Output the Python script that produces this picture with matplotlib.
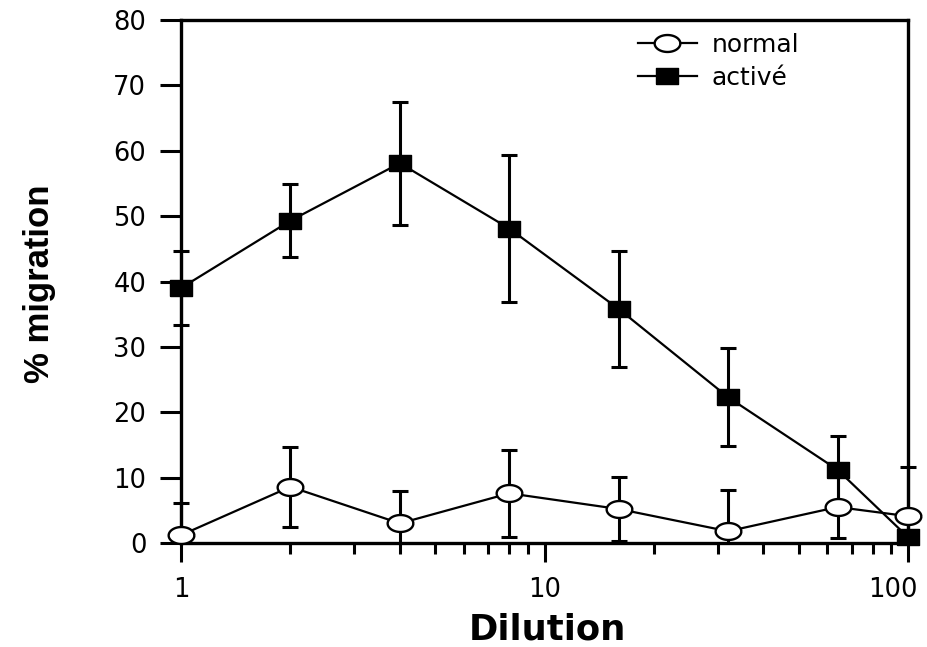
import matplotlib
matplotlib.use('Agg')
import numpy as np
import matplotlib.pyplot as plt
from matplotlib.transforms import Bbox, TransformedBbox, ScaledTranslation
from matplotlib.lines import Line2D
from matplotlib.ticker import LogLocator, NullFormatter

# ---- data ----
dilution = [1, 2, 4, 8, 16, 32, 64, 100]
normal = [1.2, 8.6, 3.0, 7.6, 5.2, 1.8, 5.5, 4.1]
normal_err = [4.9, 6.1, 4.9, 6.7, 4.9, 6.3, 4.7, 7.5]
active = [39.0, 49.3, 58.1, 48.1, 35.8, 22.3, 11.2, 0.9]
active_err = [5.6, 5.6, 9.4, 11.3, 8.9, 7.5, 5.2, 3.0]
series_labels = ["normal", "activé"]
y_ticks = [0, 10, 20, 30, 40, 50, 60, 70, 80]
x_ticks = [1, 10, 100]
x_ticklabels = ["1", "10", "100"]

# ---- markers (the reference is horizontally stretched) ----
t = np.linspace(0, 2 * np.pi, 73)
ellipse = list(zip(np.cos(t), 0.66 * np.sin(t)))
rect = [(-1, -0.74), (1, -0.74), (1, 0.74), (-1, 0.74), (-1, -0.74)]

fig = plt.figure(figsize=(9.27, 6.47), dpi=100)
ax = fig.add_axes([181 / 927, 1 - 543 / 647, (908 - 181) / 927, (543 - 20) / 647])

ax.set_xscale('log')
ax.set_xlim(1, 100)
ax.set_ylim(0, 80)

clip = TransformedBbox(Bbox([[-0.1, 0.0], [1.1, 1.1]]), ax.transAxes)

for y, e in ((normal, normal_err), (active, active_err)):
    eb = ax.errorbar(dilution, y, yerr=e, fmt='none', ecolor='black',
                     elinewidth=2.2, capsize=6, capthick=2.2, zorder=2)
    for art in list(eb.lines[1]) + list(eb.lines[2]):
        art.set_clip_on(True)
        art.set_clip_box(clip)

ax.plot(dilution, active, color='black', lw=1.6, zorder=3, clip_on=False)
ax.plot(dilution, normal, color='black', lw=1.6, zorder=3, clip_on=False)
ax.plot(dilution, active, ls='none', marker=rect, ms=16.5, mfc='black',
        mec='black', mew=1.0, zorder=4, clip_on=False)
ax.plot(dilution, normal, ls='none', marker=ellipse, ms=18.5, mfc='white',
        mec='black', mew=1.7, zorder=5, clip_on=False)

# ---- axes styling ----
for s in ax.spines.values():
    s.set_linewidth(2.4)
    s.set_zorder(2.5)

ax.set_yticks(y_ticks)
ax.set_xticks(x_ticks)
ax.set_xticklabels(x_ticklabels)
ax.xaxis.set_minor_locator(LogLocator(base=10, subs=np.arange(2, 10)))
ax.xaxis.set_minor_formatter(NullFormatter())

ax.tick_params(axis='y', which='major', direction='out', length=15, width=2.2,
               pad=10, labelsize=18.5)
ax.tick_params(axis='x', which='major', direction='out', length=13.5, width=2.2,
               pad=11, labelsize=18.5)
ax.tick_params(axis='x', which='minor', direction='out', length=8, width=2.2)
for lab in ax.get_xticklabels() + ax.get_yticklabels():
    lab.set_family('DejaVu Sans')

ax.set_xlabel('Dilution', fontsize=25.5, fontweight='bold', family='DejaVu Sans')
ax.xaxis.set_label_coords((547 - 181) / 727, (543 - 613) / 523)
ax.set_ylabel('% migration', fontsize=25, fontweight='bold', family='Liberation Sans')
ax.yaxis.set_label_coords((56 - 181) / 727, 0.496)

# ---- legend ----
h_norm = Line2D([], [], color='black', lw=1.6, marker=ellipse, ms=18.5,
                mfc='white', mec='black', mew=1.7)
h_act = Line2D([], [], color='black', lw=1.6, marker=rect, ms=16.5,
               mfc='black', mec='black', mew=1.0)
leg = ax.legend([h_norm, h_act], series_labels, loc='upper left',
                bbox_to_anchor=((638 - 181) / 727, (543 - 33) / 523),
                frameon=False, borderpad=0, borderaxespad=0,
                handlelength=2.35, handletextpad=0.6, labelspacing=0.36,
                prop={'family': 'DejaVu Sans', 'size': 18}, numpoints=1)

# the "100" label sits a little left of its tick in the reference
last = ax.get_xticklabels()[-1]
last.set_transform(last.get_transform() + ScaledTranslation(-0.15, 0, fig.dpi_scale_trans))

fig.savefig('out.png', dpi=100)
